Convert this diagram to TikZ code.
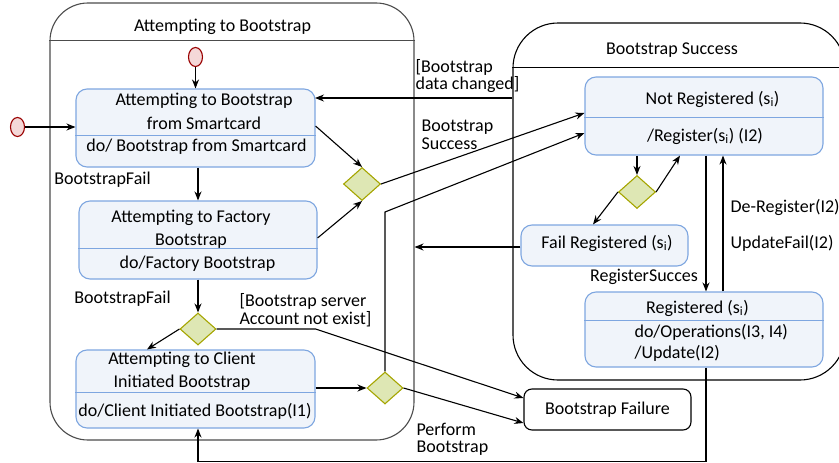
\documentclass[tikz,border=0pt]{standalone}
\usepackage{fontspec}
\setmainfont{Carlito}
\usetikzlibrary{shapes, shapes.geometric, shapes.misc, positioning, arrows.meta, calc}
\definecolor{stateblue}{RGB}{126,166,224}
\definecolor{statefill}{RGB}{240,244,250}
\definecolor{choiceline}{RGB}{165,165,0}
\definecolor{choicefill}{RGB}{222,231,180}
\definecolor{initline}{RGB}{153,0,0}
\definecolor{initfill}{RGB}{244,216,216}
\begin{document}
\begin{tikzpicture}[x=1pt, y=-1pt, >={Stealth[length=9pt,width=7pt]}, line width=1.1pt, font=\fontsize{18}{23.5}\selectfont]
\tikzset{
    container/.style={draw=black!70, rectangle, rounded corners=38pt, inner sep=0},
    state/.style={draw=stateblue, fill=statefill, rectangle, rounded corners=11pt, inner sep=0},
    final/.style={draw=black, fill=white, rectangle, rounded corners=8pt, minimum width=167pt, minimum height=41pt, inner sep=0},
    choice/.style={draw=choiceline, fill=choicefill, diamond, minimum width=37pt, minimum height=33pt, inner sep=0},
    start/.style={draw=initline, fill=initfill, ellipse, minimum width=14pt, minimum height=19pt, inner sep=0},
    divider/.style={draw=stateblue},
    txt/.style={inner sep=0, align=center},
    lbl/.style={inner sep=0, align=left, anchor=west, font=\fontsize{18}{17.5}\selectfont}
}
\useasboundingbox (0,0) rectangle (839,463);
% containers
\node[container, minimum width=364pt, minimum height=437pt] (attempt) at (232,221.5) {};
\draw[black!70] ([yshift=-38pt]attempt.north west) -- ([yshift=-38pt]attempt.north east);
\node[txt] (attemptTitle) at (222.5,27) {Attempting to Bootstrap};
\node[container, draw=black, rounded corners=45pt, minimum width=332pt, minimum height=357pt] (success) at (679,201.5) {};
\draw ([yshift=-45pt]success.north west) -- ([yshift=-45pt]success.north east);
\node[txt] (successTitle) at (672,50) {Bootstrap Success};
% initial states
\node[start] (init1) at (195.5,57) {};
\node[start] (init2) at (17.5,127) {};
% states on the left
\node[state, minimum width=239pt, minimum height=78pt] (s1) at (195.5,128) {};
\draw[divider] ([yshift=-47pt]s1.north west) -- ([yshift=-47pt]s1.north east);
\node[txt] (s1Name) at (204,111.5) {Attempting to Bootstrap\\from Smartcard};
\node[txt] (s1Do) at (196.5,147) {do/ Bootstrap from Smartcard};
\node[state, minimum width=238pt, minimum height=78pt] (s2) at (198,240) {};
\draw[divider] ([yshift=-48pt]s2.north west) -- ([yshift=-48pt]s2.north east);
\node[txt] (s2Name) at (191,229) {Attempting to Factory\\Bootstrap};
\node[txt] (s2Do) at (197.5,264) {do/Factory Bootstrap};
\node[state, minimum width=239pt, minimum height=78pt] (s3) at (195.5,389) {};
\draw[divider] ([yshift=-43pt]s3.north west) -- ([yshift=-43pt]s3.north east);
\node[txt] (s3Name) at (182,371) {Attempting to Client\\Initiated Bootstrap};
\node[txt] (s3Do) at (195,411) {do/Client Initiated Bootstrap(I1)};
% states on the right
\node[state, minimum width=238pt, minimum height=78pt] (notreg) at (704,116) {};
\draw[divider] ([yshift=-41pt]notreg.north west) -- ([yshift=-41pt]notreg.north east);
\node[txt] (notregName) at (712.5,99) {Not Registered (s\textsubscript{i})};
\node[txt] (notregDo) at (705,136) {/Register(s\textsubscript{i}) (I2)};
\node[state, minimum width=167pt, minimum height=41pt] (failreg) at (604.5,245.5) {};
\node[txt] (failregName) at (607,243) {Fail Registered (s\textsubscript{i})};
\node[state, minimum width=238pt, minimum height=75pt] (reg) at (704,329.5) {};
\draw[divider] ([yshift=-29pt]reg.north west) -- ([yshift=-29pt]reg.north east);
\node[txt] (regName) at (697.5,308) {Registered (s\textsubscript{i})};
\node[txt, anchor=west, align=left, font=\fontsize{18}{21}\selectfont] (regDo) at (634,342.5) {do/Operations(I3, I4)\\/Update(I2)};
\node[final] (bfail) at (607.5,409.5) {Bootstrap Failure};
% choices
\node[choice] (c1) at (362,184) {};
\node[choice, minimum width=36pt, minimum height=32pt] (c2) at (198,329) {};
\node[choice, minimum width=36pt, minimum height=32pt] (c3) at (385,388) {};
\node[choice] (c4) at (637,192) {};
\coordinate (bend) at (385,212);
\coordinate (chg) at (315,98);
% transitions
\draw[->] (init1.south) -- (s1.north);
\draw[->] (init2.east) -- (init2 -| s1.west);
\draw[->] (s2.north |- s1.south) -- (s2.north);
\draw[->] (s2.south) -- (c2.north);
\draw[->] (c2.west) -- ([xshift=-48.5pt]s3.north);
\draw[->] (c2.east) -- (s3.east |- c2) -- ([yshift=11.5pt]bfail.west);
\draw[->] (s3.east |- c3) -- (c3.west);
\draw[->] (c3.east) -- ([yshift=-13.5pt]bfail.west);
\draw[->] (c3.north) -- (bend) -- ([yshift=-17pt]notreg.west);
\draw[->] ([yshift=2pt]s1.east) -- (c1.north);
\draw[->] ([yshift=2pt]s2.east) -- (c1.south);
\draw[->] (c1.east) -- ([yshift=3pt]notreg.west);
\draw[->] (success.west |- chg) -- (chg);
\draw[->] (c4.north |- notreg.south) -- (c4.north);
\draw[->] (c4.east) -- ([xshift=-24pt]notreg.south);
\draw[->] (c4.west) -- ([xshift=-11.5pt]failreg.north);
\draw[->] ([yshift=-1.5pt]failreg.west) -- ([yshift=-1.5pt]failreg.west -| attempt.east);
\draw[->] ([xshift=2pt]notreg.south) -- ([xshift=2pt]reg.north);
\draw[->] ([xshift=19pt]reg.north) -- ([xshift=19pt]notreg.south);
\draw[->] ([xshift=2pt]reg.south) -- ++(0,94) -| ([xshift=2.5pt]s3.south);
% labels
\node[txt] (failA) at (102.5,180) {BootstrapFail};
\node[txt] (failB) at (122.5,299) {BootstrapFail};
\node[lbl] (noAccount) at (239,310) {[Bootstrap server\\Account not exist]};
\node[lbl] (dataChanged) at (415,76) {[Bootstrap\\data changed]};
\node[lbl] (bsSuccess) at (421,135) {Bootstrap\\Success};
\node[lbl] (perform) at (416,439.5) {Perform\\Bootstrap};
\node[txt] (regSucc) at (644,277) {RegisterSucces};
\node[lbl] (deReg) at (730,207) {De-Register(I2)};
\node[lbl] (updFail) at (730,243) {UpdateFail(I2)};
\end{tikzpicture}
\end{document}
